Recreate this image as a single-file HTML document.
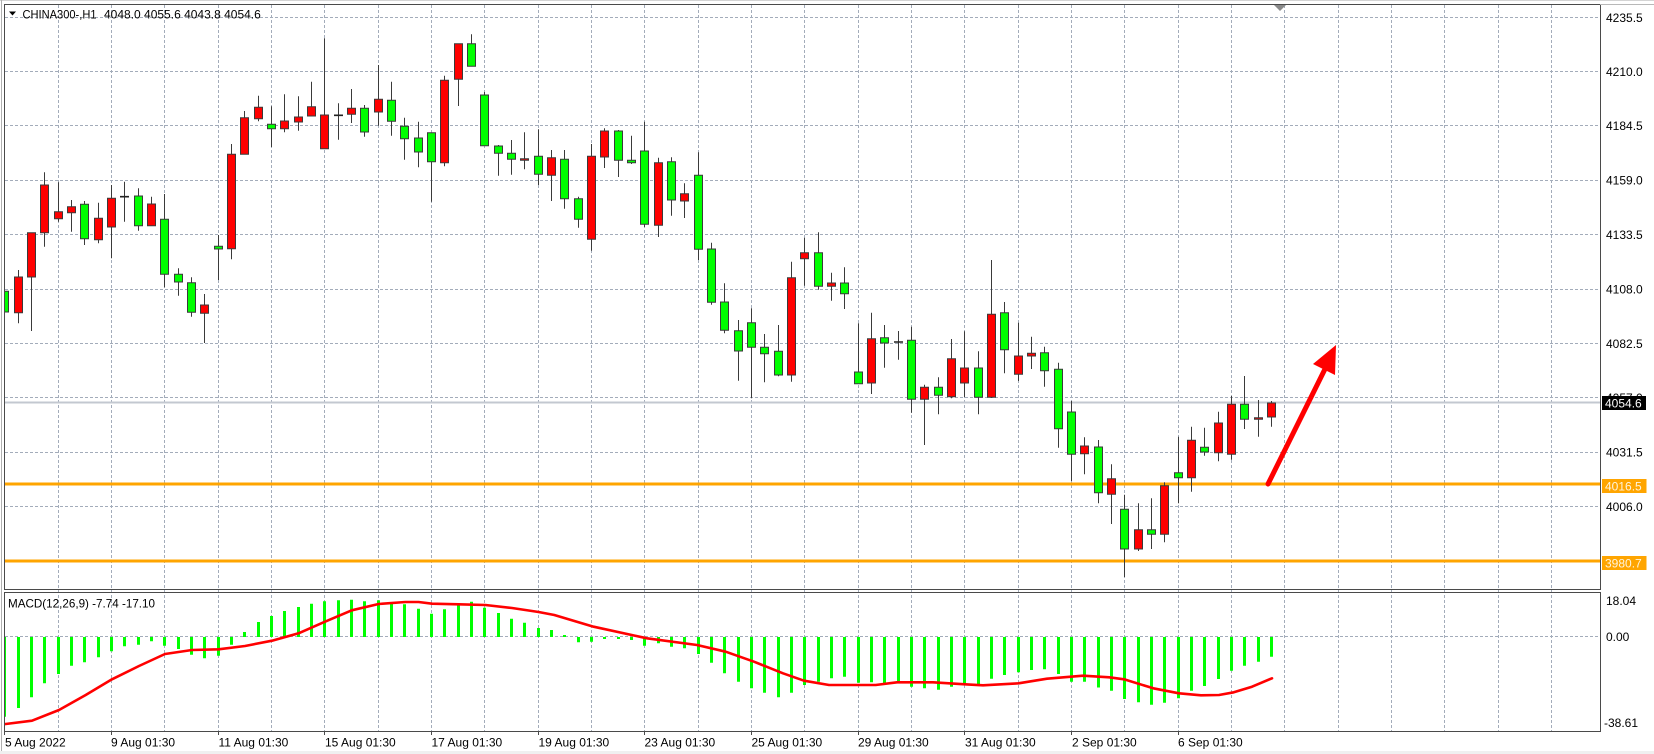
<!DOCTYPE html>
<html>
<head>
<meta charset="utf-8">
<style>
html,body{margin:0;padding:0;background:#fff;}
body{width:1654px;height:754px;overflow:hidden;}
svg{display:block;}
text{font-family:"Liberation Sans",Arial,sans-serif;font-size:12px;fill:#000;}
</style>
</head>
<body>
<svg width="1654" height="754" viewBox="0 0 1654 754" xmlns="http://www.w3.org/2000/svg">
<defs>
<clipPath id="cm"><rect x="5" y="5" width="1595" height="584"/></clipPath>
<clipPath id="cd"><rect x="5" y="593" width="1595" height="138"/></clipPath>
</defs>
<rect x="0" y="0" width="1654" height="754" fill="#fff"/>
<rect x="0" y="751" width="1654" height="3" fill="#f0f0f0"/>
<line x1="0" y1="0.5" x2="1654" y2="0.5" stroke="#d4d4d4"/>
<line x1="1.5" y1="0" x2="1.5" y2="751" stroke="#b0b0b0"/>

<!-- grid -->
<g stroke="#a3acba" stroke-width="1" stroke-dasharray="3,2" fill="none">
<path d="M5 17.5H1600M5 71.5H1600M5 125.5H1600M5 180.5H1600M5 234.5H1600M5 289.5H1600M5 343.5H1600M5 397.5H1600M5 452.5H1600M5 506.5H1600"/>
<path d="M5 636.5H1600"/>
<path d="M58.5 5V731M111.5 5V731M164.5 5V731M218.5 5V731M271.5 5V731M324.5 5V731M378.5 5V731M431.5 5V731M484.5 5V731M538.5 5V731M591.5 5V731M644.5 5V731M698.5 5V731M751.5 5V731M804.5 5V731M858.5 5V731M911.5 5V731M964.5 5V731M1018.5 5V731M1071.5 5V731M1124.5 5V731M1178.5 5V731M1231.5 5V731M1284.5 5V731M1338.5 5V731M1391.5 5V731M1444.5 5V731M1498.5 5V731M1551.5 5V731"/>
</g>

<!-- main plot -->
<g clip-path="url(#cm)">
<line x1="5" y1="402.5" x2="1600" y2="402.5" stroke="#c3c8d0" stroke-width="2"/>
<line x1="5" y1="484" x2="1600" y2="484" stroke="#ffa500" stroke-width="3"/>
<line x1="5" y1="561" x2="1600" y2="561" stroke="#ffa500" stroke-width="3"/>

<path stroke="#3a3a3a" stroke-width="1" fill="none" d="M4.5 276V316.7M18.5 270V323.3M31.5 232.7V331M44.5 172.3V246.7M58.5 182.3V221.7M71.5 200V231.7M84.5 201V245M98.5 202.7V243.3M111.5 185V258.3M124.5 181.7V221.7M138.5 188.3V230.7M151.5 196.7V225.7M164.5 194V287.3M178.5 268.3V295.7M191.5 277.3V316.7M204.5 294V343M218.5 235V280M231.5 144V259.3M244.5 111V154.3M258.5 95.7V121.3M271.5 106.3V147M284.5 94.3V132.3M298.5 96.3V130.7M311.5 81.7V116M324.5 38.3V148.7M338.5 103.3V139.7M351.5 89V123M364.5 105V136.7M378.5 65V125.7M391.5 81.7V135.7M404.5 117.7V159.7M418.5 121.7V167.3M431.5 132.7V201.7M444.5 75.7V166.3M458.5 43.7V106M471.5 34.3V66.3M484.5 92V146M498.5 145V175.7M511.5 140V174.7M524.5 132.3V169.3M538.5 129.3V185M551.5 150V201M564.5 150V208.7M578.5 196.7V227.7M591.5 144V250.7M604.5 128.3V168M618.5 130V177M631.5 135.7V164M644.5 121.7V227M658.5 157.7V237M671.5 157.3V215.7M684.5 183.3V218M698.5 152.3V260M711.5 242.7V304.7M724.5 283.3V333.3M738.5 320V380.7M751.5 308.3V398.3M764.5 334V382.3M778.5 325V376.3M791.5 261.7V381.7M804.5 237.7V285.7M818.5 232.3V289.7M831.5 272.7V300.7M844.5 267.3V309M858.5 323.3V383.7M871.5 312.7V394M884.5 325V367.7M898.5 331V359.7M911.5 326.7V412.7M924.5 384.7V445M938.5 377.3V414.3M951.5 339V398.3M964.5 331.3V397M978.5 351.3V414.3M991.5 260V398M1004.5 302V373.3M1018.5 322.7V381M1031.5 336.7V369M1044.5 346.7V386.7M1058.5 362.7V447.7M1071.5 401V481M1084.5 437.3V474.3M1098.5 440V503.3M1111.5 464.3V524M1124.5 494.7V577M1138.5 503.3V551M1151.5 498.3V549M1164.5 482.3V542.3M1178.5 436.7V503.3M1191.5 426.7V491.7M1204.5 427.7V455.7M1218.5 411.7V461.3M1231.5 396V459.7M1244.5 376V429M1258.5 400V436.7M1271.5 401V426.7"/>

<path fill="#ff0000" stroke="#3a3a3a" stroke-width="1" d="M14.5 277h8V312.7h-8ZM27.5 232.7h8V277h-8ZM40.5 185h8V232.7h-8ZM54.5 211.7h8V218.7h-8ZM67.5 206.7h8V212.7h-8ZM94.5 218.3h8V239.7h-8ZM107.5 198.3h8V227h-8ZM147.5 204h8V225.7h-8ZM200.5 305h8V313.3h-8ZM227.5 154.3h8V248.7h-8ZM240.5 117.7h8V154.3h-8ZM254.5 107.3h8V118.7h-8ZM280.5 121h8V128.7h-8ZM294.5 117h8V122h-8ZM307.5 106.7h8V116h-8ZM320.5 115h8V148.7h-8ZM347.5 108.3h8V114.3h-8ZM374.5 99.3h8V112h-8ZM440.5 80.3h8V162.7h-8ZM454.5 43.7h8V79.3h-8ZM520.5 158.7h8V160.3h-8ZM547.5 157.7h8V175.3h-8ZM587.5 156.3h8V239.3h-8ZM600.5 131h8V157h-8ZM654.5 162.7h8V225.3h-8ZM680.5 193.7h8V201h-8ZM787.5 277.7h8V375h-8ZM800.5 252.7h8V258.7h-8ZM827.5 283h8V286.3h-8ZM867.5 338.7h8V383h-8ZM920.5 387.3h8V399.3h-8ZM947.5 358.7h8V396.7h-8ZM960.5 368h8V383h-8ZM987.5 314.3h8V397.3h-8ZM1014.5 356h8V374.3h-8ZM1027.5 353.3h8V356h-8ZM1080.5 446h8V453.7h-8ZM1107.5 478.7h8V494.3h-8ZM1134.5 529.7h8V549h-8ZM1160.5 485.7h8V534.3h-8ZM1187.5 440.3h8V477.7h-8ZM1214.5 423h8V452.7h-8ZM1227.5 404.3h8V454.3h-8ZM1254.5 417.7h8V419.3h-8ZM1267.5 403h8V417h-8Z"/>

<path fill="#00ff00" stroke="#3a3a3a" stroke-width="1" d="M0.5 291.3h8V312h-8ZM80.5 204.3h8V238.7h-8ZM134.5 196h8V225.7h-8ZM160.5 219.3h8V274.3h-8ZM174.5 274.3h8V282h-8ZM187.5 282.7h8V312.3h-8ZM214.5 246.3h8V249h-8ZM267.5 124.3h8V128.7h-8ZM360.5 108.3h8V132h-8ZM387.5 100.3h8V121.3h-8ZM400.5 126.3h8V138.7h-8ZM414.5 138h8V152h-8ZM427.5 132.7h8V161.7h-8ZM467.5 43.7h8V66.3h-8ZM480.5 95h8V145.7h-8ZM494.5 146h8V153.3h-8ZM507.5 153.3h8V159.3h-8ZM534.5 156.3h8V174.3h-8ZM560.5 159.3h8V198.7h-8ZM574.5 198.7h8V219.3h-8ZM614.5 131h8V160.3h-8ZM627.5 160.3h8V162.7h-8ZM640.5 151h8V224.3h-8ZM667.5 161.7h8V200h-8ZM694.5 175.3h8V249.3h-8ZM707.5 249h8V302.3h-8ZM720.5 302h8V330.3h-8ZM734.5 330.7h8V351h-8ZM747.5 322.7h8V347.3h-8ZM760.5 347.3h8V353.7h-8ZM774.5 351.3h8V375h-8ZM814.5 252.7h8V286.3h-8ZM840.5 283h8V293.7h-8ZM854.5 372h8V383.7h-8ZM880.5 337.7h8V343h-8ZM907.5 340.3h8V399.3h-8ZM934.5 387.3h8V395.3h-8ZM974.5 368h8V397.3h-8ZM1000.5 312.7h8V349.7h-8ZM1040.5 352.7h8V370.7h-8ZM1054.5 369.3h8V428.7h-8ZM1067.5 412h8V454.3h-8ZM1094.5 447h8V492.7h-8ZM1120.5 509.3h8V549h-8ZM1147.5 529.7h8V534.3h-8ZM1174.5 472.7h8V477.7h-8ZM1200.5 447.3h8V452h-8ZM1240.5 404.3h8V419.3h-8Z"/>

<path stroke="#222" stroke-width="1.6" fill="none" d="M120 196.7h9M334 115.3h9M894 342h9"/>

<!-- arrow -->
<line x1="1268" y1="484" x2="1327" y2="365" stroke="#ff0000" stroke-width="5" stroke-linecap="round"/>
<polygon points="1336,345 1335,375 1313,364" fill="#ff0000"/>
</g>

<!-- MACD -->
<g clip-path="url(#cd)">
<path stroke="#00ff00" stroke-width="3" fill="none" d="M4.5 637V716.7M18.5 637V708M31.5 637V697.3M44.5 637V683.3M58.5 637V674M71.5 637V665.7M84.5 637V662.3M98.5 637V657.3M111.5 637V651.3M124.5 637V646.3M138.5 637V644.7M151.5 637V641.3M164.5 637V645.7M178.5 637V649M191.5 637V654.7M204.5 637V658.3M218.5 637V655.7M231.5 637V644.7M244.5 637V632M258.5 637V622M271.5 637V616M284.5 637V611M298.5 637V607M311.5 637V603.7M324.5 637V601.3M338.5 637V600.3M351.5 637V599.7M364.5 637V601.3M378.5 637V600.3M391.5 637V603.3M404.5 637V604.3M418.5 637V608.7M431.5 637V613.7M444.5 637V609.3M458.5 637V605.3M471.5 637V601.7M484.5 637V607.7M498.5 637V613M511.5 637V618.7M524.5 637V622.7M538.5 637V628M551.5 637V630M564.5 637V635M578.5 637V642.3M591.5 637V641.7M604.5 637V639M618.5 637V639M631.5 637V640M644.5 637V645.7M658.5 637V643.3M671.5 637V646.7M684.5 637V648.3M698.5 637V654M711.5 637V662.7M724.5 637V673.3M738.5 637V681.7M751.5 637V688.3M764.5 637V692.7M778.5 637V697.3M791.5 637V692.7M804.5 637V685M818.5 637V681.7M831.5 637V678.3M844.5 637V676.7M858.5 637V682.7M871.5 637V682.3M884.5 637V683M898.5 637V681.7M911.5 637V686.7M924.5 637V688.3M938.5 637V689.7M951.5 637V686.7M964.5 637V684M978.5 637V685M991.5 637V678.7M1004.5 637V675M1018.5 637V672.3M1031.5 637V670M1044.5 637V669.3M1058.5 637V674M1071.5 637V681.7M1084.5 637V681.7M1098.5 637V687.5M1111.5 637V690.7M1124.5 637V699M1138.5 637V702.3M1151.5 637V704.7M1164.5 637V702.7M1178.5 637V698.3M1191.5 637V690.7M1204.5 637V686M1218.5 637V679M1231.5 637V670.7M1244.5 637V665.7M1258.5 637V661.7M1271.5 637V656.7"/>
<polyline fill="none" stroke="#ff0000" stroke-width="2.6" stroke-linejoin="round" stroke-linecap="round" points="2,724.5 5.7,724 32,720.7 59,710 85.7,695 112,679.3 139,666 165,654 192,650 218.6,649.3 245,646 272,640.7 298.6,633.3 325,621.7 351.8,610.3 378.6,604 405.4,602 418.6,602 432,603.7 458.6,604.3 485.4,605 512,608 538.6,612 554.3,615 593.6,626.7 647,638.3 697,645 725.7,651.7 754,661.7 783,673.3 804,680.7 829,685 875.7,685 897,682.3 933,682.3 965,684.3 983,685.3 1018.6,683.3 1047,678.7 1083,675.7 1109.3,677.3 1124,679.3 1153.3,688.3 1179,693.3 1201,695.3 1219,695 1233.8,692.3 1252,686.7 1272,678.3"/>
</g>

<!-- frames -->
<g fill="none" stroke="#4a4a4a" stroke-width="1">
<rect x="4.5" y="4.5" width="1596" height="585"/>
<rect x="4.5" y="592.5" width="1596" height="139"/>
</g>
<line x1="1600" y1="4.5" x2="1654" y2="4.5" stroke="#b8b8b8"/>
<polygon points="1274,5 1286,5 1280,11" fill="#8a8a8a"/>

<!-- x ticks -->
<path stroke="#4a4a4a" stroke-width="1" d="M4.5 731V735M111.5 731V735M218.5 731V735M324.5 731V735M431.5 731V735M538.5 731V735M644.5 731V735M751.5 731V735M858.5 731V735M964.5 731V735M1071.5 731V735M1178.5 731V735"/>

<!-- header -->
<polygon points="9,11.5 16,11.5 12.5,15.5" fill="#000"/>
<text x="22.5" y="18.5" textLength="74" lengthAdjust="spacingAndGlyphs">CHINA300-,H1</text>
<text x="104" y="18.5">4048.0 4055.6 4043.8 4054.6</text>
<text x="8" y="607.5" textLength="147" lengthAdjust="spacingAndGlyphs">MACD(12,26,9) -7.74 -17.10</text>

<!-- right axis -->
<text x="1606" y="22">4235.5</text>
<text x="1606" y="76">4210.0</text>
<text x="1606" y="130">4184.5</text>
<text x="1606" y="184.5">4159.0</text>
<text x="1606" y="239">4133.5</text>
<text x="1606" y="293.5">4108.0</text>
<text x="1606" y="348">4082.5</text>
<text x="1606" y="402">4057.0</text>
<text x="1606" y="456.5">4031.5</text>
<text x="1606" y="511">4006.0</text>
<rect x="1602" y="396" width="44" height="14" fill="#000"/>
<text x="1605" y="407.5" style="fill:#fff">4054.6</text>
<rect x="1602" y="479" width="44.5" height="14" fill="#ffa500"/>
<text x="1605" y="490.5" style="fill:#fff4dc">4016.5</text>
<rect x="1602" y="556" width="44.5" height="14" fill="#ffa500"/>
<text x="1605" y="567.5" style="fill:#fff4dc">3980.7</text>
<text x="1606" y="605">18.04</text>
<text x="1606" y="641">0.00</text>
<text x="1604" y="727">-38.61</text>

<!-- x axis labels -->
<text x="5" y="746.5">5 Aug 2022</text>
<text x="111" y="746.5">9 Aug 01:30</text>
<text x="218.5" y="746.5">11 Aug 01:30</text>
<text x="325" y="746.5">15 Aug 01:30</text>
<text x="431.5" y="746.5">17 Aug 01:30</text>
<text x="538.5" y="746.5">19 Aug 01:30</text>
<text x="644.5" y="746.5">23 Aug 01:30</text>
<text x="751.5" y="746.5">25 Aug 01:30</text>
<text x="858" y="746.5">29 Aug 01:30</text>
<text x="965" y="746.5">31 Aug 01:30</text>
<text x="1072" y="746.5">2 Sep 01:30</text>
<text x="1178" y="746.5">6 Sep 01:30</text>
</svg>
</body>
</html>
